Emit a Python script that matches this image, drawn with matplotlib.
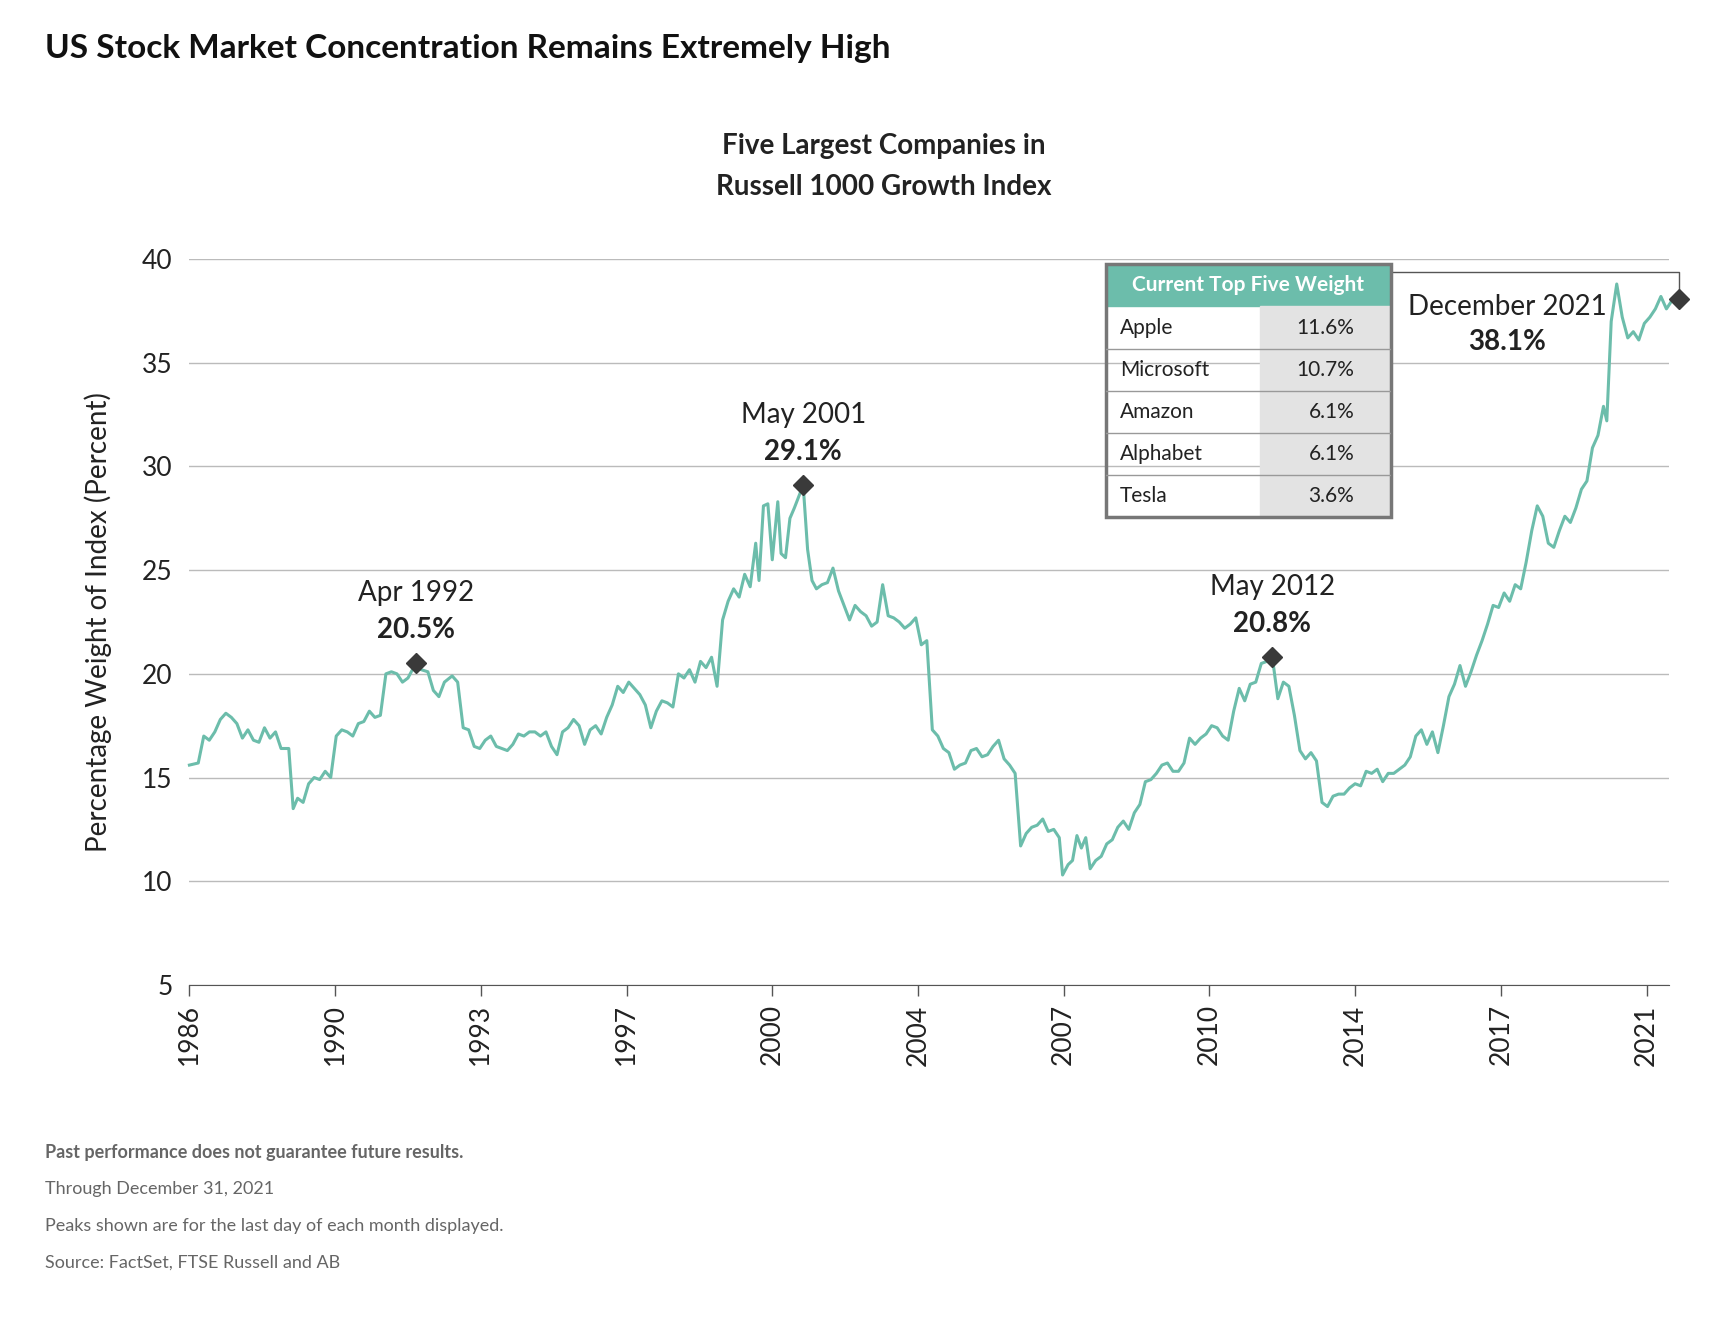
import numpy as np
import matplotlib.pyplot as plt
from matplotlib.patches import Rectangle

plt.rcParams['font.family'] = ['Lato', 'DejaVu Sans']

# sample position along the time axis (tick spacing = 132 units) and weight in percent
period = [0, 8, 13, 18, 23, 28, 33, 38, 43, 48, 53, 58, 63, 68, 73, 78, 83, 90, 94, 98, 103, 108, 113,
          118, 123, 128, 133, 138, 143, 148, 153, 158, 163, 168, 173, 178, 183, 188, 193, 198, 205, 210,
          216, 221, 226, 231, 238, 243, 248, 253, 258, 263, 268, 273, 278, 283, 288, 293, 298, 303, 308,
          313, 318, 323, 328, 333, 338, 343, 348, 353, 358, 363, 368, 373, 378, 383, 388, 393, 398, 403,
          408, 413, 418, 423, 428, 433, 438, 443, 448, 453, 458, 463, 468, 473, 478, 483, 488, 493, 498,
          503, 508, 513, 516, 520, 524, 528, 533, 536, 540, 544, 548, 556, 560, 564, 568, 573, 578, 583,
          588, 593, 598, 603, 608, 613, 618, 623, 628, 633, 638, 643, 648, 653, 658, 663, 668, 673, 678,
          683, 688, 693, 698, 703, 708, 713, 718, 723, 728, 733, 738, 743, 748, 753, 758, 763, 768, 773,
          778, 783, 788, 791, 796, 800, 804, 808, 812, 816, 821, 826, 831, 836, 841, 846, 851, 856, 861,
          866, 871, 876, 881, 886, 891, 896, 901, 906, 911, 916, 921, 926, 931, 936, 941, 946, 951, 956,
          961, 966, 971, 976, 981, 986, 991, 996, 1001, 1006, 1011, 1016, 1021, 1026, 1031, 1036, 1041,
          1046, 1051, 1056, 1061, 1066, 1071, 1076, 1081, 1086, 1091, 1096, 1101, 1106, 1111, 1116, 1121,
          1126, 1131, 1136, 1141, 1146, 1151, 1156, 1161, 1166, 1171, 1176, 1181, 1186, 1191, 1196, 1201,
          1206, 1211, 1216, 1221, 1226, 1231, 1236, 1241, 1246, 1251, 1256, 1261, 1266, 1271, 1276, 1281,
          1284, 1288, 1293, 1298, 1303, 1308, 1313, 1318, 1323, 1328, 1333, 1338, 1343, 1349]
weight = [15.6, 15.7, 17.0, 16.8, 17.2, 17.8, 18.1, 17.9, 17.6, 16.9, 17.3, 16.8, 16.7, 17.4, 16.9, 17.2,
          16.4, 16.4, 13.5, 14.0, 13.8, 14.7, 15.0, 14.9, 15.3, 15.0, 17.0, 17.3, 17.2, 17.0, 17.6, 17.7,
          18.2, 17.9, 18.0, 20.0, 20.1, 20.0, 19.6, 19.8, 20.5, 20.2, 20.1, 19.2, 18.9, 19.6, 19.9, 19.6,
          17.4, 17.3, 16.5, 16.4, 16.8, 17.0, 16.5, 16.4, 16.3, 16.6, 17.1, 17.0, 17.2, 17.2, 17.0, 17.2,
          16.5, 16.1, 17.2, 17.4, 17.8, 17.5, 16.6, 17.3, 17.5, 17.1, 17.9, 18.5, 19.4, 19.1, 19.6, 19.3,
          19.0, 18.5, 17.4, 18.2, 18.7, 18.6, 18.4, 20.0, 19.8, 20.2, 19.6, 20.6, 20.3, 20.8, 19.4, 22.6,
          23.5, 24.1, 23.7, 24.8, 24.2, 26.3, 24.5, 28.1, 28.2, 25.5, 28.3, 25.8, 25.6, 27.5, 28.0, 29.1,
          26.0, 24.5, 24.1, 24.3, 24.4, 25.1, 24.0, 23.3, 22.6, 23.3, 23.0, 22.8, 22.3, 22.5, 24.3, 22.8,
          22.7, 22.5, 22.2, 22.4, 22.7, 21.4, 21.6, 17.3, 17.0, 16.4, 16.2, 15.4, 15.6, 15.7, 16.3, 16.4,
          16.0, 16.1, 16.5, 16.8, 15.9, 15.6, 15.2, 11.7, 12.3, 12.6, 12.7, 13.0, 12.4, 12.5, 12.1, 10.3,
          10.8, 11.0, 12.2, 11.6, 12.1, 10.6, 11.0, 11.2, 11.8, 12.0, 12.6, 12.9, 12.5, 13.3, 13.7, 14.8,
          14.9, 15.2, 15.6, 15.7, 15.3, 15.3, 15.7, 16.9, 16.6, 16.9, 17.1, 17.5, 17.4, 17.0, 16.8, 18.2,
          19.3, 18.7, 19.5, 19.6, 20.5, 20.6, 20.8, 18.8, 19.6, 19.4, 18.0, 16.3, 15.9, 16.2, 15.8, 13.8,
          13.6, 14.1, 14.2, 14.2, 14.5, 14.7, 14.6, 15.3, 15.2, 15.4, 14.8, 15.2, 15.2, 15.4, 15.6, 16.0,
          17.0, 17.3, 16.6, 17.2, 16.2, 17.5, 18.9, 19.5, 20.4, 19.4, 20.1, 20.9, 21.6, 22.4, 23.3, 23.2,
          23.9, 23.5, 24.3, 24.1, 25.4, 26.9, 28.1, 27.6, 26.3, 26.1, 26.9, 27.6, 27.3, 28.0, 28.9, 29.3,
          30.9, 31.5, 32.9, 32.2, 37.0, 38.8, 37.2, 36.2, 36.5, 36.1, 36.9, 37.2, 37.6, 38.2, 37.6, 38.0,
          38.1]

tick_labels = ['1986', '1990', '1993', '1997', '2000', '2004', '2007', '2010', '2014', '2017', '2021']
tick_step = 132

peaks = [('Apr 1992', 205, 20.5), ('May 2001', 556, 29.1), ('May 2012', 981, 20.8), ('December 2021', 1349, 38.1)]

companies = ['Apple', 'Microsoft', 'Amazon', 'Alphabet', 'Tesla']
top_weights = ['11.6%', '10.7%', '6.1%', '6.1%', '3.6%']

teal = '#6cbdab'
fig = plt.figure(figsize=(17.22, 13.22), dpi=100)
ax = fig.add_axes([0.110, 0.255, 0.859, 0.549])
ax.plot(period, weight, color=teal, lw=2.2, clip_on=False)
ax.set_xlim(0, 1340)
ax.set_ylim(5, 40)
ax.set_yticks(range(5, 41, 5))
ax.set_xticks([i * tick_step for i in range(len(tick_labels))])
ax.set_xticklabels(tick_labels, rotation=90)
ax.tick_params(axis='both', labelsize=19, length=0, colors='#222222', pad=12)
ax.tick_params(axis='x', length=8, width=1, color='#555555', direction='out', pad=6)
ax.grid(axis='y', color='#bbbbbb', lw=1)
ax.set_axisbelow(True)
for s in ['top', 'right', 'left']:
    ax.spines[s].set_visible(False)
ax.spines['bottom'].set_color('#555555')
ax.set_ylabel('Percentage Weight of Index (Percent)', fontsize=20, color='#222222', labelpad=22)

for name, p, v in peaks:
    ax.plot(p, v, marker='D', color='#3a3a3a', ms=10, clip_on=False, zorder=5)
    if name.startswith('December'):
        tx, ty1, ty2 = p - 155, v - 0.4, v - 2.1
    else:
        tx, ty1, ty2 = p, v + 3.4, v + 1.6
    ax.text(tx, ty1, name, ha='center', va='center', fontsize=20, color='#222222')
    ax.text(tx, ty2, f'{v}%', ha='center', va='center', fontsize=20, fontweight='bold', color='#222222')

# connector from table to the latest point
ax.plot([1090, 1349, 1349], [39.4, 39.4, 38.1], color='#555555', lw=1, clip_on=False)

fig.text(0.026, 0.963, 'US Stock Market Concentration Remains Extremely High', fontsize=24,
         fontweight='bold', va='center', color='#111111')
fig.text(0.513, 0.874, 'Five Largest Companies in\nRussell 1000 Growth Index', fontsize=20,
         fontweight='bold', ha='center', va='center', linespacing=1.7, color='#222222')

notes = ['Past performance does not guarantee future results.', 'Through December 31, 2021',
         'Peaks shown are for the last day of each month displayed.', 'Source: FactSet, FTSE Russell and AB']
for i, n in enumerate(notes):
    fig.text(0.026, 0.128 - i * 0.0277, n, fontsize=13, color='#666666', va='center',
             fontweight='bold' if i == 0 else 'normal')

# table of current weights
tx0, tx1, ty1, ty0 = 0.642, 0.808, 0.800, 0.609
tab = fig.add_axes([tx0, ty0, tx1 - tx0, ty1 - ty0])
tab.set_xlim(0, 1)
tab.set_ylim(0, 6)
tab.axis('off')
tab.add_patch(Rectangle((0, 5), 1, 1, color=teal))
tab.text(0.5, 5.5, 'Current Top Five Weight', color='white', fontweight='bold', fontsize=15,
         ha='center', va='center')
split = 0.54
for i, (c, w) in enumerate(zip(companies, top_weights)):
    y = 4 - i
    tab.add_patch(Rectangle((split, y), 1 - split, 1, color='#e3e3e3'))
    tab.text(0.05, y + 0.5, c, fontsize=15, va='center', color='#222222')
    tab.text(0.87, y + 0.5, w, fontsize=15, va='center', ha='right', color='#222222')
    if i > 0:
        tab.plot([0, 1], [y + 1, y + 1], color='#999999', lw=1)
tab.add_patch(Rectangle((0, 0), 1, 6, fill=False, ec='#777777', lw=2.5, clip_on=False))

fig.savefig('out.png', dpi=100, facecolor='white')
